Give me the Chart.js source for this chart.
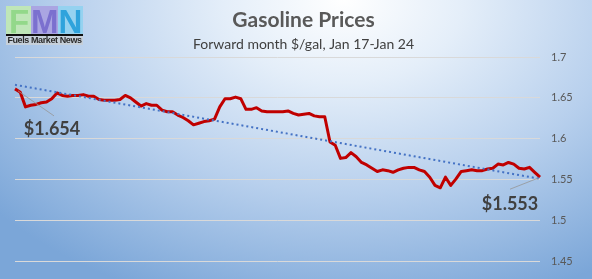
<!DOCTYPE html>
<html>
<head>
<meta charset="utf-8">
<script src="https://cdn.jsdelivr.net/npm/chart.js@4.4.1/dist/chart.umd.min.js"></script>
<style>
  html, body { margin: 0; padding: 0; }
  #wrap {
    position: relative; width: 592px; height: 279px; overflow: hidden;
    background: radial-gradient(ellipse 78% 115% at 58% 0%, #ffffff 0%, #e4eef9 26%, #b8d0ed 60%, #7ba6d8 100%);
  }
  #wrap canvas { position: absolute; left: 0; top: 0; }
  #logo { position: absolute; left: 6px; top: 6px; width: 77px; height: 38px; font-family: "Liberation Sans", Arial, sans-serif; }
  #logo .blk { position: absolute; top: 0; height: 28px; width: 26px; font-weight: bold; font-size: 33px; line-height: 31px; text-align: center; }
  #logo .f { left: 0; background: #bfe6b8; color: #93d88a; }
  #logo .m { left: 25px; width: 27px; background: #aaa5e2; color: #7b70cf; }
  #logo .n { left: 52px; width: 25px; background: #95d2f0; color: #2fa3dc; }
  #logo .bar { position: absolute; left: 0; top: 28px; width: 77px; height: 2px; background: #111; }
  #logo .name { position: absolute; left: 0; top: 30px; width: 77px; height: 9px; background: #c6d0da; color: #2b2b2b; font-size: 9px; line-height: 9px; font-weight: bold; letter-spacing: -0.4px; white-space: nowrap; text-align: center; }
</style>
</head>
<body>
<div id="wrap">
  <canvas id="gas-chart" width="592" height="279"></canvas>
  <div id="logo">
    <div class="blk f">F</div>
    <div class="blk m">M</div>
    <div class="blk n">N</div>
    <div class="bar"></div>
    <div class="name">Fuels Market News</div>
  </div>
</div>
<script>
// forward month gasoline, $/gal
const prices = [
  1.661, 1.657, 1.639, 1.641, 1.642, 1.644, 1.645, 1.649, 1.656, 1.653,
  1.652, 1.653, 1.653, 1.654, 1.652, 1.652, 1.648, 1.647, 1.647, 1.647,
  1.648, 1.653, 1.650, 1.645, 1.640, 1.643, 1.641, 1.641, 1.635, 1.633,
  1.633, 1.629, 1.626, 1.622, 1.617, 1.619, 1.621, 1.622, 1.624, 1.639,
  1.649, 1.649, 1.651, 1.649, 1.636, 1.636, 1.638, 1.634, 1.633, 1.633,
  1.633, 1.633, 1.634, 1.631, 1.629, 1.630, 1.631, 1.628, 1.627, 1.627,
  1.596, 1.592, 1.576, 1.577, 1.583, 1.578, 1.571, 1.568, 1.564, 1.560,
  1.562, 1.561, 1.559, 1.562, 1.564, 1.565, 1.565, 1.562, 1.560, 1.553,
  1.543, 1.540, 1.553, 1.543, 1.551, 1.560, 1.561, 1.562, 1.561, 1.561,
  1.563, 1.564, 1.569, 1.568, 1.571, 1.569, 1.564, 1.563, 1.565, 1.559,
  1.553,
];
const labels = prices.map((v, i) => String(i));

// dotted linear trend, end values
const trendStart = 1.666;
const trendEnd = 1.551;
const trend = prices.map((v, i) => (i === 0 ? trendStart : i === prices.length - 1 ? trendEnd : null));

const startLabel = '$1.654';
const endLabel = '$1.553';

const yTicks = [1.45, 1.5, 1.55, 1.6, 1.65, 1.7];

const callouts = {
  id: 'callouts',
  afterDatasetsDraw(chart) {
    const { ctx, scales: { x, y } } = chart;
    const last = prices.length - 1;
    const p0 = { x: x.getPixelForValue(0), y: y.getPixelForValue(prices[0]) };
    const p1 = { x: x.getPixelForValue(last), y: y.getPixelForValue(prices[last]) };

    ctx.save();
    ctx.strokeStyle = 'rgba(150,150,150,0.8)';
    ctx.lineWidth = 1;
    ctx.beginPath();
    ctx.moveTo(p0.x + 3, p0.y + 2);
    ctx.lineTo(p0.x + 39, p0.y + 27);
    ctx.moveTo(p1.x - 30, p1.y + 12);
    ctx.lineTo(p1.x - 2, p1.y + 1);
    ctx.stroke();

    ctx.fillStyle = '#404040';
    ctx.font = 'bold 18px Lato, sans-serif';
    ctx.textAlign = 'center';
    ctx.textBaseline = 'middle';
    ctx.fillText(startLabel, p0.x + 37, p0.y + 40);
    ctx.fillText(endLabel, p1.x - 30, p1.y + 27);
    ctx.restore();
  },
};

new Chart(document.getElementById('gas-chart'), {
  type: 'line',
  data: {
    labels,
    datasets: [
      {
        label: 'Trend',
        data: trend,
        spanGaps: true,
        borderColor: '#4472c4',
        borderWidth: 2,
        borderDash: [2, 3],
        pointRadius: 0,
        fill: false,
      },
      {
        label: 'Gasoline',
        data: prices,
        borderColor: '#c00000',
        borderWidth: 3,
        pointRadius: 0,
        tension: 0,
        borderJoinStyle: 'round',
        fill: false,
      },
    ],
  },
  options: {
    responsive: false,
    animation: false,
    layout: { padding: { left: 15, right: 0, top: 0, bottom: 12 } },
    scales: {
      x: { display: false },
      y: {
        position: 'right',
        min: 1.45,
        max: 1.7,
        afterBuildTicks: (scale) => { scale.ticks = yTicks.map((v) => ({ value: v })); },
        afterFit: (scale) => { scale.width = 52; },
        border: { display: false },
        grid: { color: '#d9d9d9', drawTicks: false, lineWidth: 1 },
        ticks: {
          padding: 11,
          color: '#595959',
          font: { family: 'Lato', size: 11 },
          callback: (v) => String(Number(v.toFixed(2))),
        },
      },
    },
    plugins: {
      legend: { display: false },
      tooltip: { enabled: false },
      title: {
        display: true,
        text: 'Gasoline Prices',
        color: '#595959',
        font: { family: 'Lato', size: 21, weight: 'bold' },
        padding: { top: 8, bottom: 0 },
      },
      subtitle: {
        display: true,
        text: 'Forward month $/gal, Jan 17-Jan 24',
        color: '#404040',
        font: { family: 'Lato', size: 14 },
        padding: { top: 3, bottom: 4 },
      },
    },
  },
  plugins: [callouts],
});
</script>
</body>
</html>
